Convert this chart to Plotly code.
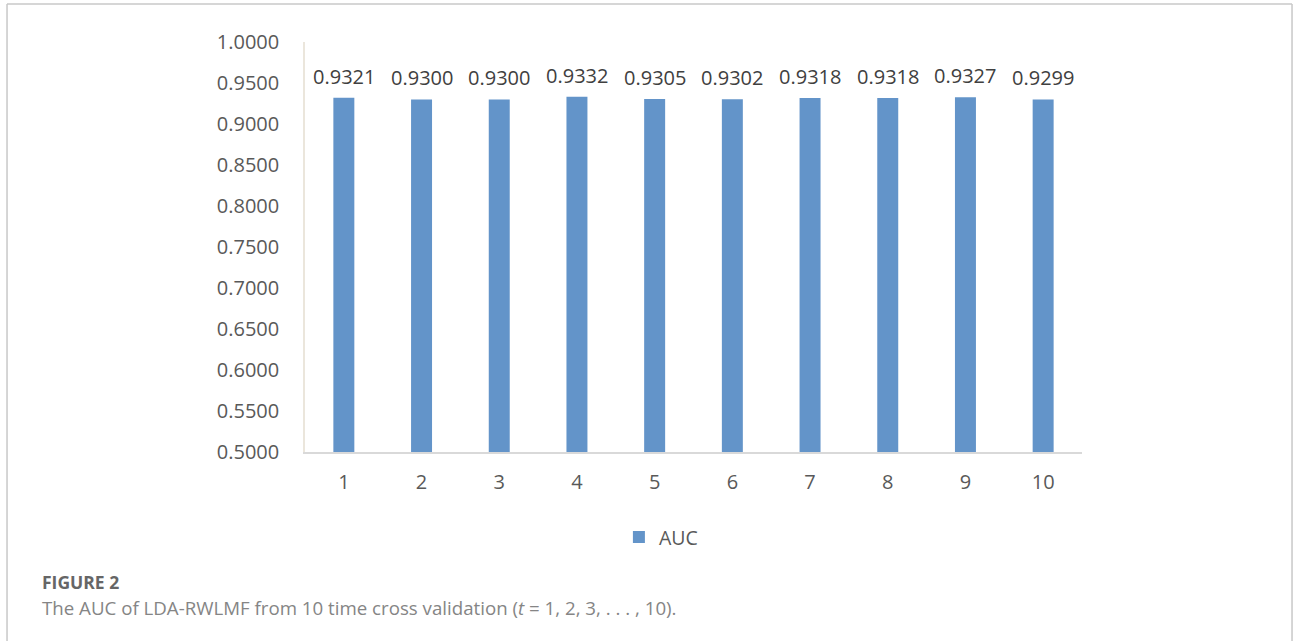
import plotly.graph_objects as go

# Cross-validation rounds and their AUC scores
folds = ["1", "2", "3", "4", "5", "6", "7", "8", "9", "10"]
auc = [0.9321, 0.9300, 0.9300, 0.9332, 0.9305, 0.9302, 0.9318, 0.9318, 0.9327, 0.9299]
y_ticks = [0.50, 0.55, 0.60, 0.65, 0.70, 0.75, 0.80, 0.85, 0.90, 0.95, 1.00]

BAR = "#6394C9"
TXT = "#595959"
FONT = "Open Sans"

fig = go.Figure()
fig.add_trace(go.Bar(
    x=folds, y=auc, name="AUC", marker=dict(color=BAR, line=dict(width=0)),
))

# value labels above each bar (positioned by category index)
for i, v in enumerate(auc):
    fig.add_annotation(
        x=i, y=v, text=f"{v:.4f}", showarrow=False, yanchor="bottom",
        yshift=6, font=dict(family=FONT, size=20, color="#404040"),
    )

# caption below the chart
fig.add_annotation(
    xref="paper", yref="paper", x=-0.3405, y=-0.317, xanchor="left", yanchor="middle",
    text="<b>FIGURE 2</b>", showarrow=False,
    font=dict(family=FONT, size=17.5, color="#666666"),
)
fig.add_annotation(
    xref="paper", yref="paper", x=-0.3405, y=-0.38, xanchor="left", yanchor="middle",
    text="The AUC of LDA-RWLMF from 10 time cross validation (<i>t</i> = 1, 2, 3, . . . , 10).",
    showarrow=False, font=dict(family=FONT, size=18.7, color="#858585"),
)

# frame around the whole figure (left, top, right)
frame = "#c8c8c8"
for x0, y0, x1, y1 in [(-0.3835, -0.48, -0.3835, 1.0927),
                       (-0.3835, 1.0927, 1.2703, 1.0927),
                       (1.2703, 1.0927, 1.2703, -0.48)]:
    fig.add_shape(type="line", xref="paper", yref="paper", x0=x0, y0=y0, x1=x1, y1=y1,
                  line=dict(color=frame, width=1.5))

fig.update_layout(
    width=1293, height=641,
    margin=dict(l=305, r=211, t=42, b=189),
    paper_bgcolor="white", plot_bgcolor="white",
    bargap=0.73,
    font=dict(family=FONT, color=TXT),
    showlegend=True,
    legend=dict(orientation="h", x=0.404, y=-0.208, xanchor="left", yanchor="middle",
                font=dict(family=FONT, size=19.5, color=TXT)),
    xaxis=dict(
        type="category",
        showgrid=False, showline=True, linecolor="#d9d9d9", linewidth=2,
        ticks="", tickfont=dict(size=20, color=TXT), ticklabelstandoff=11,
    ),
    yaxis=dict(
        range=[0.5, 1.0], tickvals=y_ticks, tickformat=".4f",
        showgrid=False, zeroline=False, showline=True, linecolor="#ebe6dc", linewidth=1.5,
        ticks="", tickfont=dict(size=20, color=TXT), ticklabelstandoff=20,
    ),
)

fig.write_html("out.html")
